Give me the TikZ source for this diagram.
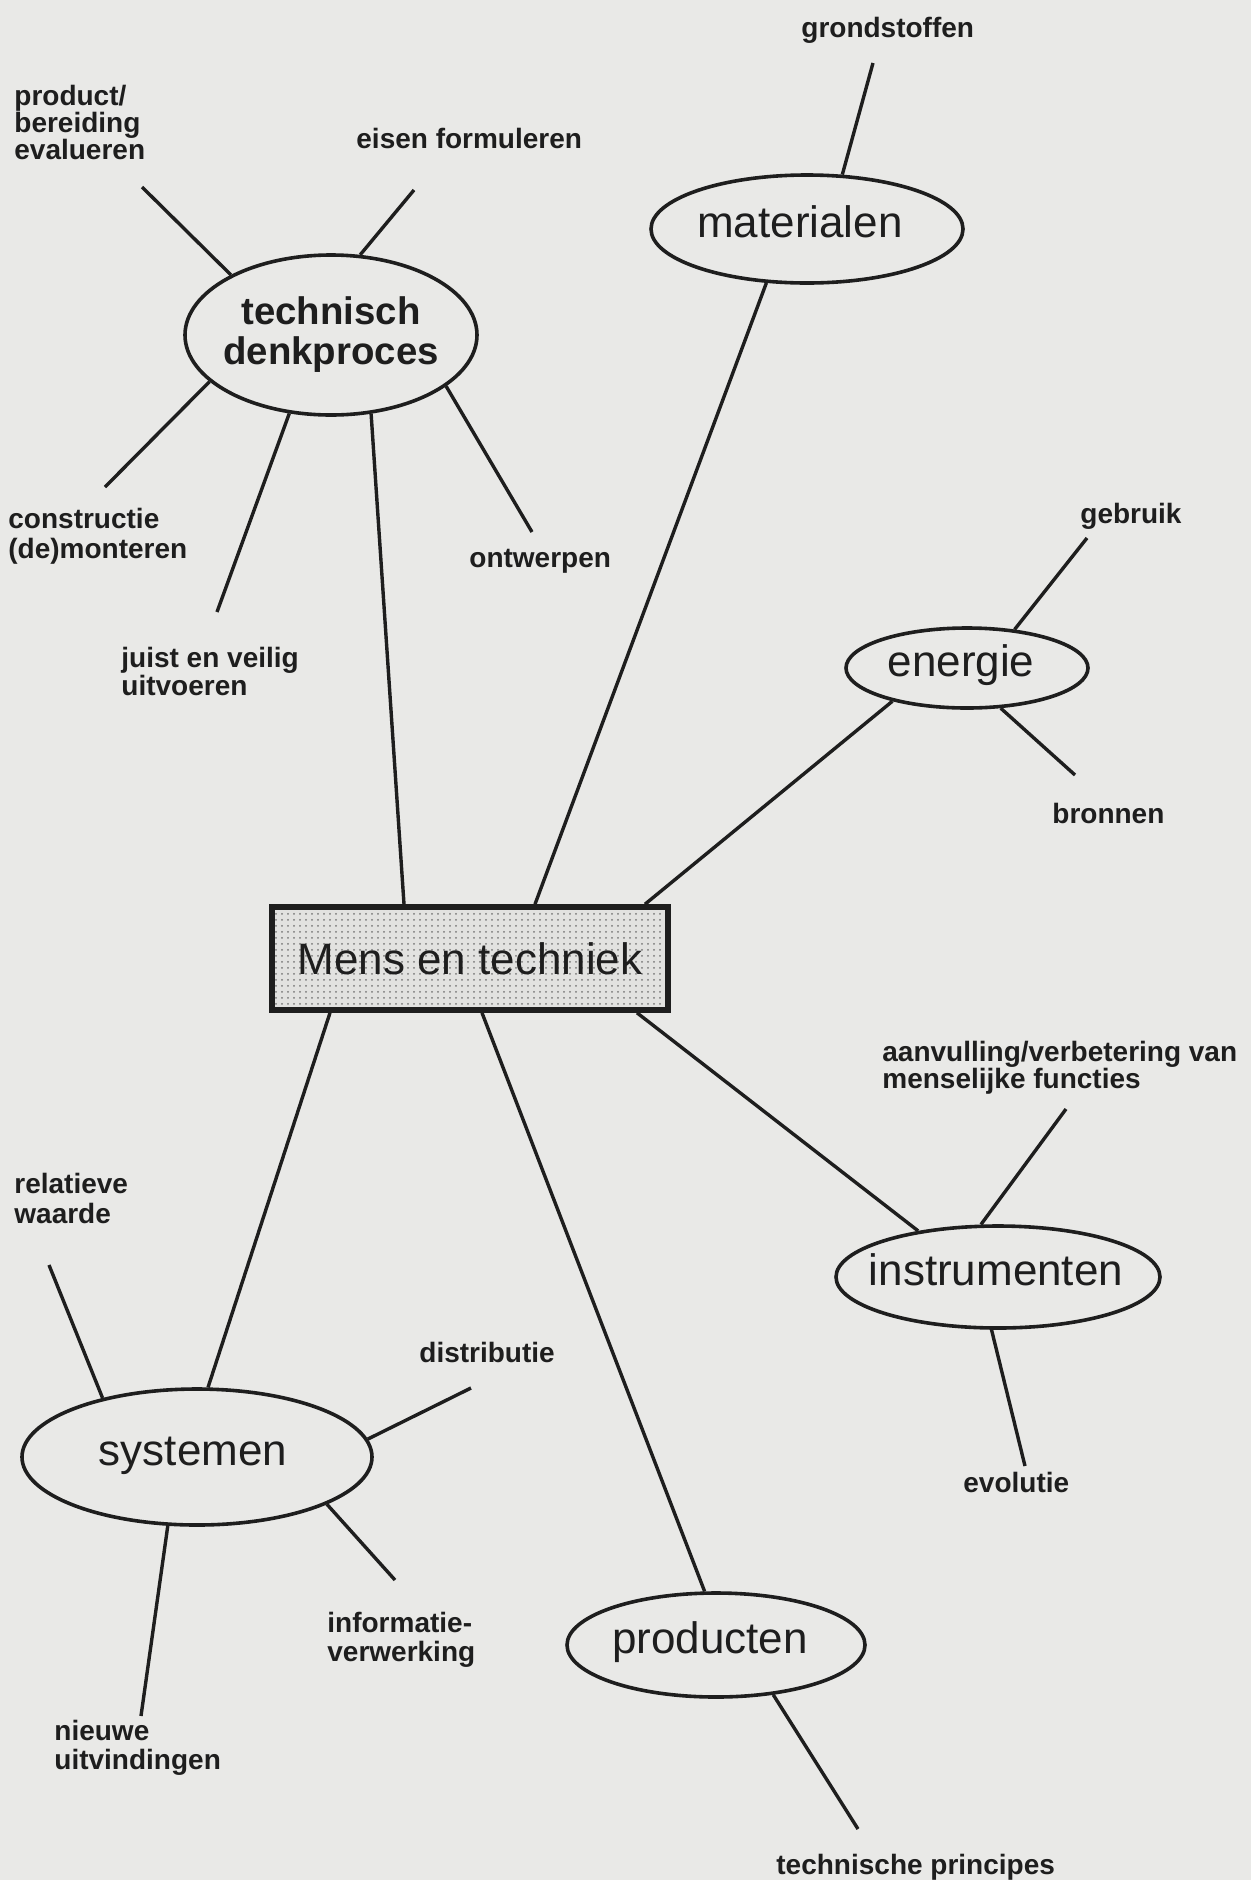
\documentclass[tikz,border=0pt]{standalone}
\usepackage{fontspec}
\setmainfont{Liberation Sans}
\usetikzlibrary{shapes.geometric,patterns}
\definecolor{ink}{RGB}{30,30,30}
\definecolor{paper}{RGB}{233,233,231}
\definecolor{boxfill}{RGB}{226,226,224}
\definecolor{dotcol}{RGB}{120,120,120}
\begin{document}
\begin{tikzpicture}[x=0.5pt,y=-0.5pt,
  ell/.style={ellipse, draw=ink, line width=1.8pt, inner sep=0pt},
  elltext/.style={inner sep=0pt, text=ink,
    font=\fontsize{22}{24}\selectfont, text height=16pt, text depth=8pt},
  boldtext/.style={inner sep=0pt, text=ink, align=center,
    font=\bfseries\fontsize{19.2}{20}\selectfont},
  mainbox/.style={draw=ink, line width=2.8pt, inner sep=0pt, text=ink,
    minimum width=198pt, minimum height=51.5pt,
    preaction={fill=boxfill}, pattern=dots, pattern color=dotcol,
    font=\fontsize{22}{24}\selectfont},
  lab/.style={font=\bfseries\fontsize{14}{14.5}\selectfont, align=left,
    anchor=base west, inner sep=0pt, text=ink},
  con/.style={draw=ink, line width=1.7pt}]
\fill[paper] (0,0) rectangle (1251,1880);
\useasboundingbox (0,0) rectangle (1251,1880);

% main nodes
\node[mainbox] (box) at (470,958.5) {Mens en techniek};
\node[ell, minimum width=156pt, minimum height=54pt,
  label={[elltext, xshift=-3.5pt]center:materialen}] (mat) at (807,229) {};
\node[ell, minimum width=146pt, minimum height=80pt,
  label={[boldtext]center:{technisch\\denkproces}}] (tdp) at (331,335) {};
\node[ell, minimum width=121pt, minimum height=40pt,
  label={[elltext, xshift=-3pt]center:energie}] (ene) at (967,668) {};
\node[ell, minimum width=162pt, minimum height=51pt,
  label={[elltext, xshift=-1pt]center:instrumenten}] (ins) at (998,1277) {};
\node[ell, minimum width=175pt, minimum height=68pt,
  label={[elltext, xshift=-2pt]center:systemen}] (sys) at (197,1457) {};
\node[ell, minimum width=149pt, minimum height=52pt,
  label={[elltext, xshift=-3pt]center:producten}] (pro) at (716,1645) {};

% labels (anchor = baseline of the last line)
\node[lab] (lgrond) at (801,37) {grondstoffen};
\node[lab, font=\bfseries\fontsize{14}{13.5}\selectfont] (lprod) at (14,159) {product/\\bereiding\\evalueren};
\node[lab] (leisen) at (356,148) {eisen formuleren};
\node[lab, font=\bfseries\fontsize{14}{15}\selectfont] (lconstr) at (8,558) {constructie\\(de)monteren};
\node[lab, font=\bfseries\fontsize{14}{14}\selectfont] (ljuist) at (121,695) {juist en veilig\\uitvoeren};
\node[lab] (lontw) at (469,567) {ontwerpen};
\node[lab] (lgebr) at (1080,523) {gebruik};
\node[lab] (lbron) at (1052,823) {bronnen};
\node[lab, font=\bfseries\fontsize{14}{13.5}\selectfont] (laanv) at (882,1088) {aanvulling/verbetering van\\menselijke functies};
\node[lab] (levol) at (963,1492) {evolutie};
\node[lab, font=\bfseries\fontsize{14}{15}\selectfont] (lrelat) at (14,1223) {relatieve\\waarde};
\node[lab] (ldistr) at (419,1362) {distributie};
\node[lab] (linfo) at (327,1661) {informatie-\\verwerking};
\node[lab] (lnieuw) at (54,1769) {nieuwe\\uitvindingen};
\node[lab] (ltechn) at (776,1874) {technische principes};

% free ends of the spokes
\coordinate (cGrond) at (873,63);
\coordinate (cProd) at (142,187);
\coordinate (cEisen) at (414,190);
\coordinate (cConstr) at (105,487);
\coordinate (cJuist) at (217,612);
\coordinate (cOntw) at (532,532);
\coordinate (cGebr) at (1087,538);
\coordinate (cBron) at (1075,775);
\coordinate (cAanv) at (1066,1109);
\coordinate (cEvol) at (1025,1466);
\coordinate (cRelat) at (49,1265);
\coordinate (cDistr) at (471,1388);
\coordinate (cInfo) at (395,1580);
\coordinate (cNieuw) at (141,1716);
\coordinate (cTechn) at (858,1829);

% spokes
\draw[con] (cGrond) -- (mat.57);
\draw[con] (cProd) -- (tdp.149.3);
\draw[con] (cEisen) -- (tdp.70.2);
\draw[con] (cConstr) -- (tdp.201.2);
\draw[con] (cJuist) -- (tdp.242.6);
\draw[con] (cOntw) -- (tdp.336.4);
\draw[con] (cGebr) -- (ene.39.6);
\draw[con] (cBron) -- (ene.310.2);
\draw[con] (cAanv) -- (ins.108.4);
\draw[con] (cEvol) -- (ins.263);
\draw[con] (cRelat) -- (sys.148);
\draw[con] (cDistr) -- (sys.6.5);
\draw[con] (cInfo) -- (sys.340.6);
\draw[con] (cNieuw) -- (sys.247.4);
\draw[con] (cTechn) -- (pro.319);

% links to the central box
\draw[con] (tdp.297.1) -- ([xshift=-33pt]box.north);
\draw[con] (mat.233.5) -- ([xshift=32.5pt]box.north);
\draw[con] (ene.204.4) -- ([xshift=87.5pt]box.north);
\draw[con] ([xshift=-70pt]box.south) -- (sys.81);
\draw[con] ([xshift=6pt]box.south) -- (pro.102);
\draw[con] ([xshift=83.5pt]box.south) -- (ins.150);
\end{tikzpicture}
\end{document}
